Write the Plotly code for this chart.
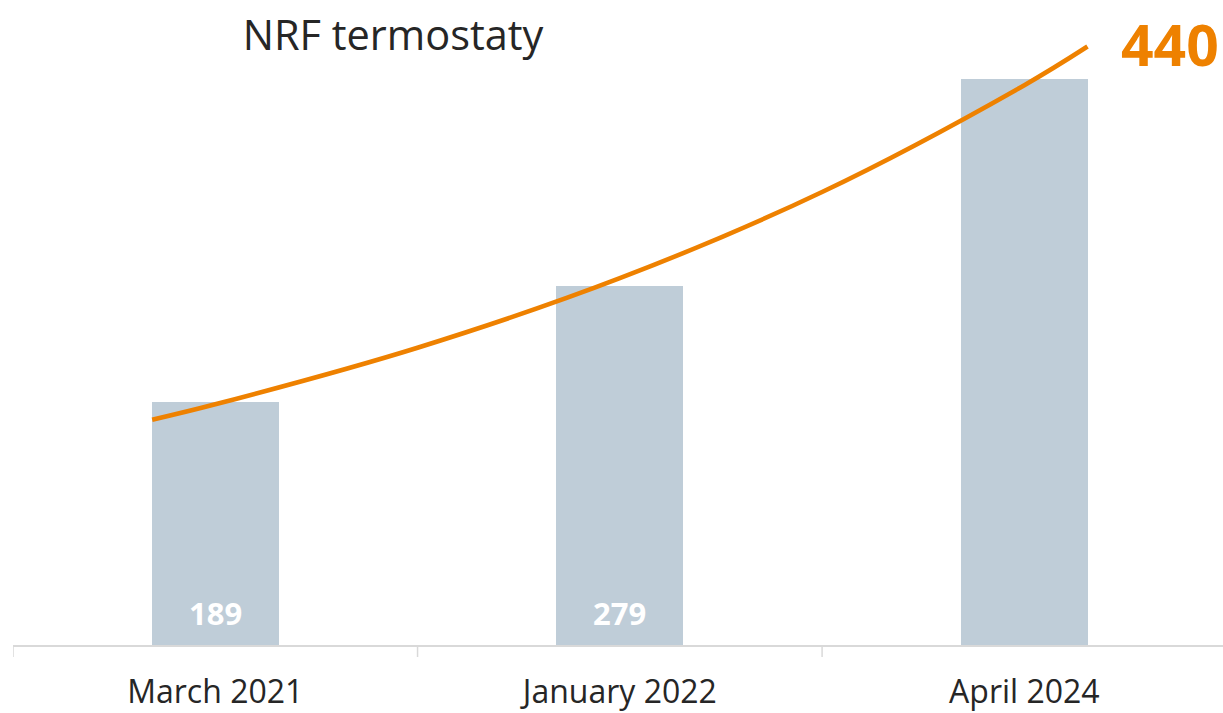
import plotly.graph_objects as go

categories = ["March 2021", "January 2022", "April 2024"]
values = [189, 279, 440]
bar_labels = ["189", "279", ""]
# trend curve (position in category units, value)
trend_x = [-0.156, 0.0, 0.5, 1.0, 1.5, 2.0, 2.156]
trend_y = [175, 187, 231, 285, 352, 435, 465]

BAR = "#BFCDD8"
ORANGE = "#EE8100"
TXT = "#262626"
FONT = "Open Sans"

xpos = list(range(len(categories)))

fig = go.Figure()
fig.add_trace(go.Bar(x=xpos, y=values, width=0.314, marker=dict(color=BAR, line=dict(width=0)),
                     hoverinfo="skip"))
fig.add_trace(go.Scatter(x=trend_x, y=trend_y, mode="lines", line=dict(color=ORANGE, width=4.6, shape="spline"),
                         hoverinfo="skip"))

for i, t in enumerate(bar_labels):
    if t:
        fig.add_annotation(x=xpos[i], y=25, text=f"<b>{t}</b>", showarrow=False,
                           font=dict(family=FONT, size=31, color="white"), yanchor="middle")

fig.add_annotation(x=2.36, y=467, text=f"<b>{values[2]}</b>", showarrow=False,
                   font=dict(family=FONT, size=57, color=ORANGE), xanchor="center", yanchor="middle")

fig.update_layout(
    width=1223, height=713,
    margin=dict(l=13, r=0, t=10, b=68),
    paper_bgcolor="white", plot_bgcolor="white",
    showlegend=False,
    bargap=0,
    title=dict(text="NRF termostaty", x=393/1223, xanchor="center", xref="container",
               y=1-35/713, yanchor="middle", yref="container",
               font=dict(family=FONT, size=41.5, color=TXT)),
    xaxis=dict(range=[-0.5, 2.491], tickvals=xpos, ticktext=categories, showgrid=False,
               zeroline=False, showline=True, linecolor="#D9D9D9", linewidth=1.5,
               ticks="", tickfont=dict(family=FONT, size=32, color=TXT), ticklabelstandoff=18,
               fixedrange=True, automargin=False),
    yaxis=dict(range=[0, 493.4], visible=False, showgrid=False, zeroline=False, fixedrange=True),
)

# tick marks at category boundaries
for b in [-0.5, 0.5, 1.5]:
    fig.add_shape(type="line", xref="x", yref="paper", x0=b, x1=b, y0=0, y1=-12/635,
                  line=dict(color="#D9D9D9", width=1.5))

fig.write_html("out.html", config={"displayModeBar": False},
               post_script="document.body.style.margin='0';document.body.style.overflow='hidden';")
